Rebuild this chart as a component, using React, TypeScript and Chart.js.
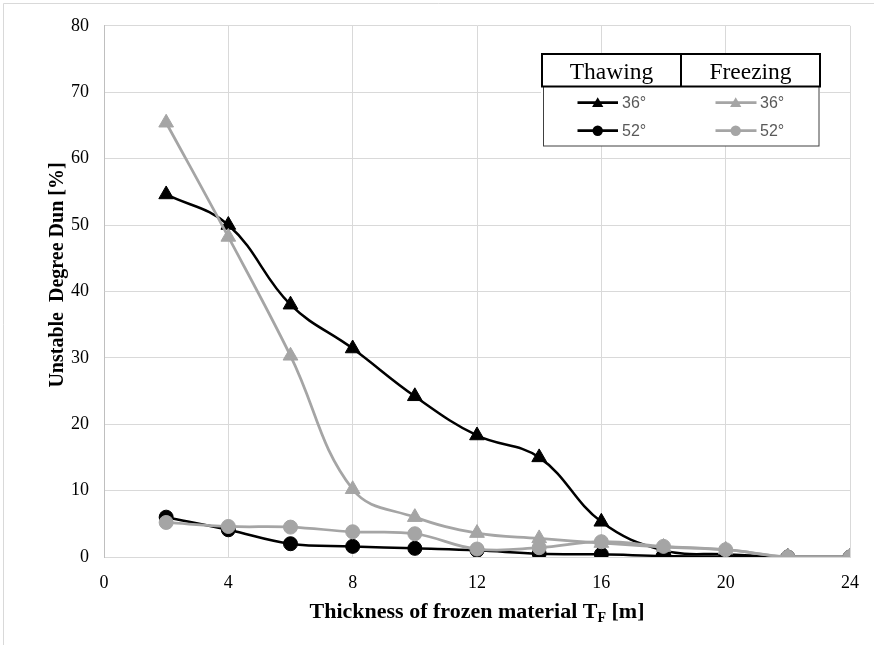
import React, { useEffect, useRef } from "react";
import { Chart, registerables } from "chart.js";

Chart.register(...registerables);

const thickness = [2, 4, 6, 8, 10, 12, 14, 16, 18, 20, 22, 24];
const thawing36 = [54.6, 50.0, 38.0, 31.4, 24.2, 18.3, 15.0, 5.3, 1.0, 0.4, 0, 0];
const freezing36 = [65.4, 48.2, 30.3, 10.2, 6.0, 3.6, 2.8, 2.1, 1.5, 1.1, 0, 0];
const thawing52 = [6.0, 4.1, 2.0, 1.6, 1.3, 1.0, 0.5, 0.4, 0.15, 0.05, 0, 0];
const freezing52 = [5.2, 4.6, 4.5, 3.8, 3.5, 1.2, 1.4, 2.3, 1.6, 1.1, 0, 0];

const xMin = 0, xMax = 24, xStep = 4;
const yMin = 0, yMax = 80, yStep = 10;

const yTitle = "Unstable  Degree Dun [%]";
const xTitleMain = "Thickness of frozen material T";
const xTitleSub = "F";
const xTitleEnd = " [m]";
const legendHeaders = ["Thawing", "Freezing"];
const legendLabels = ["36°", "52°"];

const BLACK = "#000000";
const GRAY = "#a5a5a5";
const SERIF = "'Liberation Serif', 'Times New Roman', serif";
const SANS = "'Liberation Sans', Arial, sans-serif";

function toXY(ys: number[]) {
  return thickness.map((x, i) => ({ x, y: ys[i] }));
}

function drawTri(ctx: CanvasRenderingContext2D, x: number, y: number, r: number) {
  ctx.beginPath();
  for (let k = 0; k < 3; k++) {
    const a = (k * 2 * Math.PI) / 3;
    const px = x + Math.sin(a) * r;
    const py = y - Math.cos(a) * r;
    if (k === 0) ctx.moveTo(px, py);
    else ctx.lineTo(px, py);
  }
  ctx.closePath();
  ctx.fill();
}

const overlay = {
  id: "overlay",
  beforeDraw(chart: any) {
    const ctx = chart.ctx as CanvasRenderingContext2D;
    ctx.save();
    ctx.fillStyle = "#fff";
    ctx.fillRect(0, 0, chart.width, chart.height);
    ctx.strokeStyle = "#d9d9d9";
    ctx.lineWidth = 1;
    ctx.beginPath();
    ctx.moveTo(3.5, chart.height);
    ctx.lineTo(3.5, 3.5);
    ctx.lineTo(chart.width, 3.5);
    ctx.stroke();
    ctx.restore();
  },
  afterDraw(chart: any) {
    const ctx = chart.ctx as CanvasRenderingContext2D;
    const area = chart.chartArea;
    ctx.save();
    // Y title
    ctx.save();
    ctx.translate(63, 275);
    ctx.rotate(-Math.PI / 2);
    ctx.font = `bold 20px ${SERIF}`;
    ctx.fillStyle = "#000";
    ctx.textAlign = "center";
    ctx.textBaseline = "alphabetic";
    ctx.fillText(yTitle, 0, 0);
    ctx.restore();

    // X title with subscript
    const mainFont = `bold 22px ${SERIF}`;
    const subFont = `bold 14px ${SERIF}`;
    ctx.font = mainFont;
    const w1 = ctx.measureText(xTitleMain).width;
    const w3 = ctx.measureText(xTitleEnd).width;
    ctx.font = subFont;
    const w2 = ctx.measureText(xTitleSub).width;
    const total = w1 + w2 + w3;
    const cx = (area.left + area.right) / 2;
    let sx = cx - total / 2;
    const base = 618;
    ctx.fillStyle = "#000";
    ctx.textAlign = "left";
    ctx.textBaseline = "alphabetic";
    ctx.font = mainFont;
    ctx.fillText(xTitleMain, sx, base);
    sx += w1;
    ctx.font = subFont;
    ctx.fillText(xTitleSub, sx, base + 4);
    sx += w2;
    ctx.font = mainFont;
    ctx.fillText(xTitleEnd, sx, base);

    // Legend
    ctx.fillStyle = "#fff";
    ctx.fillRect(541, 54, 279, 92);
    ctx.strokeStyle = "#404040";
    ctx.lineWidth = 1;
    ctx.strokeRect(543.5, 86.5, 275.5, 59.5);
    ctx.strokeStyle = "#000";
    ctx.lineWidth = 2;
    ctx.strokeRect(542, 54, 278, 32.5);
    ctx.beginPath();
    ctx.moveTo(681, 54);
    ctx.lineTo(681, 86.5);
    ctx.stroke();

    ctx.font = `23.5px ${SERIF}`;
    ctx.fillStyle = "#000";
    ctx.textAlign = "center";
    ctx.textBaseline = "alphabetic";
    ctx.fillText(legendHeaders[0], 611.5, 78.5);
    ctx.fillText(legendHeaders[1], 750.5, 78.5);

    const cols = [
      { x0: 577.5, x1: 618, mx: 597.7, tx: 622, color: BLACK },
      { x0: 715.5, x1: 756.5, mx: 735.7, tx: 760, color: GRAY },
    ];
    const rows = [102.7, 130.7];
    cols.forEach((c) => {
      rows.forEach((ry, ri) => {
        ctx.strokeStyle = c.color;
        ctx.lineWidth = 2.75;
        ctx.beginPath();
        ctx.moveTo(c.x0, ry);
        ctx.lineTo(c.x1, ry);
        ctx.stroke();
        ctx.fillStyle = c.color;
        if (ri === 0) {
          drawTri(ctx, c.mx, ry + 1, 6.5);
        } else {
          ctx.beginPath();
          ctx.arc(c.mx, ry, 5.2, 0, Math.PI * 2);
          ctx.fill();
        }
        ctx.font = `16px ${SANS}`;
        ctx.fillStyle = "#595959";
        ctx.textAlign = "left";
        ctx.textBaseline = "middle";
        ctx.fillText(legendLabels[ri], c.tx, ry + 1);
      });
    });
    ctx.restore();
  },
};

export default function App() {
  const ref = useRef<HTMLCanvasElement | null>(null);
  useEffect(() => {
    if (!ref.current) return;
    const mk = (label: string, data: number[], color: string, style: string, radius: number, width: number) => ({
      label,
      data: toXY(data),
      borderColor: color,
      backgroundColor: color,
      pointBackgroundColor: color,
      pointBorderColor: color,
      pointStyle: style,
      pointRadius: radius,
      pointBorderWidth: 1,
      borderWidth: width,
      tension: 0.4,
      fill: false,
    });
    const chart = new Chart(ref.current, {
      type: "line",
      data: {
        datasets: [
          mk("Freezing 36°", freezing36, GRAY, "triangle", 8.5, 2.75),
          mk("Freezing 52°", freezing52, GRAY, "circle", 7, 2.75),
          mk("Thawing 36°", thawing36, BLACK, "triangle", 8.5, 2.5),
          mk("Thawing 52°", thawing52, BLACK, "circle", 7, 2.5),
        ] as any,
      },
      options: {
        responsive: false,
        animation: false,
        devicePixelRatio: 1,
        layout: { padding: { top: 25, right: 22, left: 0, bottom: 0 } },
        plugins: { legend: { display: false }, tooltip: { enabled: false } },
        scales: {
          x: {
            type: "linear",
            min: xMin,
            max: xMax,
            afterFit: (s: any) => {
              s.height = 88;
            },
            ticks: {
              stepSize: xStep,
              padding: 15,
              color: "#000",
              font: { family: SERIF, size: 18 },
            },
            grid: { color: "#d9d9d9", lineWidth: 1, drawTicks: false },
            border: { color: "#d9d9d9" },
          },
          y: {
            min: yMin,
            max: yMax,
            afterFit: (s: any) => {
              s.width = 104;
            },
            ticks: {
              stepSize: yStep,
              padding: 15,
              color: "#000",
              font: { family: SERIF, size: 18 },
            },
            grid: { color: "#d9d9d9", lineWidth: 1, drawTicks: false },
            border: { color: "#bfbfbf" },
          },
        },
      } as any,
      plugins: [overlay],
    });
    return () => chart.destroy();
  }, []);
  return (
    <div style={{ position: "absolute", left: 0, top: 0, width: 874, height: 645, background: "#fff" }}>
      <canvas ref={ref} width={874} height={645} style={{ display: "block", width: 874, height: 645 }} />
    </div>
  );
}
